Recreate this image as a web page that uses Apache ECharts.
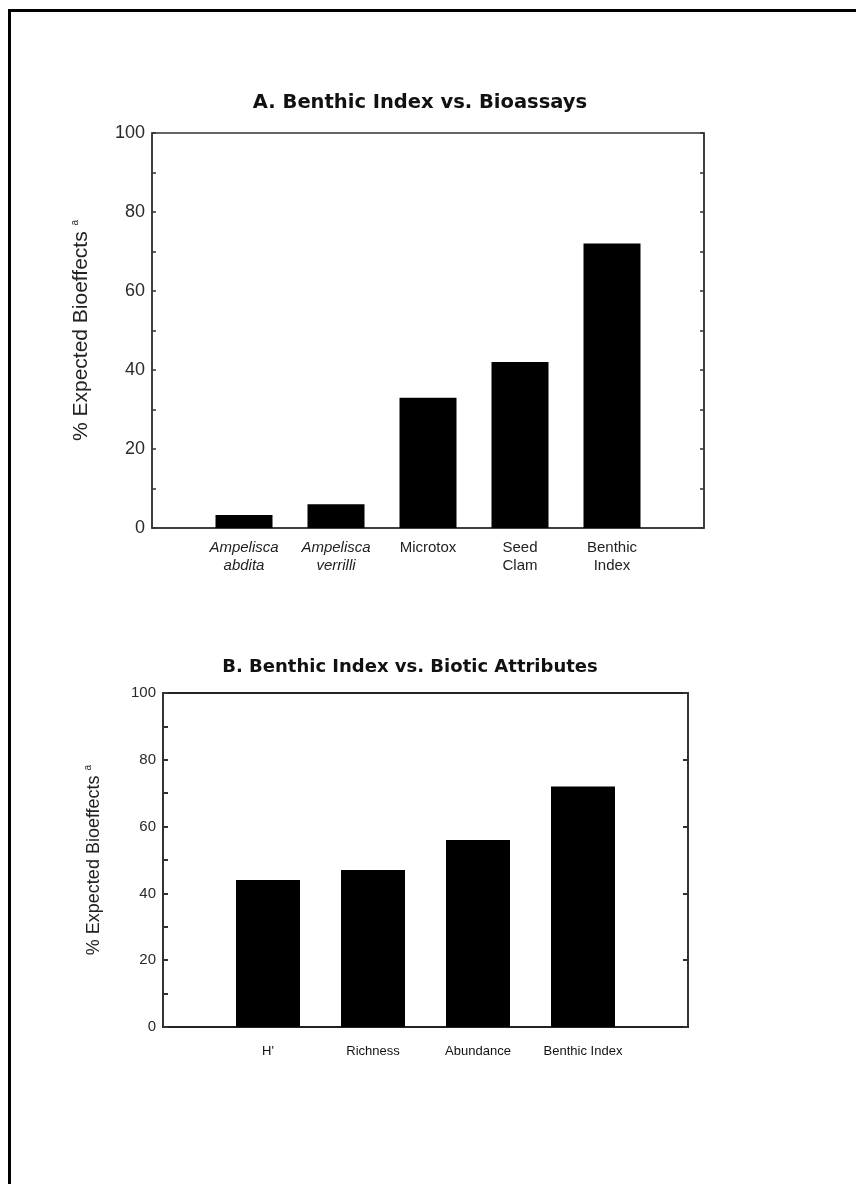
<!DOCTYPE html>
<html>
<head>
<meta charset="utf-8">
<script src="https://cdn.jsdelivr.net/npm/echarts@6/dist/echarts.min.js"></script>
<style>
html,body{margin:0;padding:0;background:#fff;overflow:hidden;}
#frame{position:absolute;left:8px;top:9px;width:900px;height:1250px;border-left:3px solid #000;border-top:3px solid #000;box-sizing:border-box;}
#chart{position:absolute;left:0;top:0;width:856px;height:1184px;}
</style>
</head>
<body>
<div id="frame"></div>
<div id="chart"></div>
<script>
// Panel A data
const catsA = ['Ampelisca\nabdita', 'Ampelisca\nverrilli', 'Microtox', 'Seed\nClam', 'Benthic\nIndex'];
const valsA = [3.3, 6, 33, 42, 72];
const italicA = [true, true, false, false, false];
// Panel B data
const catsB = ["H'", 'Richness', 'Abundance', 'Benthic Index'];
const valsB = [44, 47, 56, 72];
// Axis
const yMin = 0, yMax = 100, yStep = 20;

const fontA = 'Liberation Sans, Arial, sans-serif';
const fontT = 'DejaVu Sans, Liberation Sans, sans-serif';
const axisColor = '#333';

const padCats = c => [''].concat(c, ['']);
const padVals = v => [null].concat(v, [null]);

function yAxisDef(grid, pos, showLabel, size, name, nameSize, nameGap, tickLen, minor, lw) {
  return {
    type: 'value', gridIndex: grid, position: pos, min: yMin, max: yMax, interval: yStep,
    name: name, nameLocation: 'middle', nameGap: nameGap, nameRotate: 90,
    nameTextStyle: {fontFamily: fontA, fontSize: nameSize, color: '#222',
      rich: {sup: {fontFamily: fontA, fontSize: 10, color: '#222', verticalAlign: 'top', padding: [0,0,12,0]}}},
    axisLine: {show: true, lineStyle: {color: axisColor, width: lw}},
    axisTick: {show: true, inside: true, length: tickLen, lineStyle: {color: axisColor, width: lw}},
    minorTick: {show: minor, splitNumber: 2, length: tickLen, lineStyle: {color: axisColor, width: lw}},
    splitLine: {show: false},
    axisLabel: {show: showLabel, fontFamily: fontA, fontSize: size, color: '#2a2a2a', margin: 7}
  };
}

const chart = echarts.init(document.getElementById('chart'), null, {renderer: 'canvas'});
chart.setOption({
  animation: false,
  backgroundColor: 'transparent',
  title: [
    {text: 'A. Benthic Index vs. Bioassays', left: 415, top: 88, textAlign: 'center',
     textStyle: {fontFamily: fontT, fontSize: 19.5, fontWeight: 'bold', color: '#111'}},
    {text: 'B. Benthic Index vs. Biotic Attributes', left: 405, top: 653, textAlign: 'center',
     textStyle: {fontFamily: fontT, fontSize: 18, fontWeight: 'bold', color: '#111'}}
  ],
  grid: [
    {left: 152, top: 133, width: 552, height: 395, show: true, borderColor: axisColor, borderWidth: 1.5},
    {left: 163, top: 693, width: 525, height: 334, show: true, borderColor: '#222', borderWidth: 2}
  ],
  xAxis: [
    {type: 'category', gridIndex: 0, data: padCats(catsA), boundaryGap: false,
     axisLine: {lineStyle: {color: axisColor, width: 1.5}}, axisTick: {show: false},
     axisLabel: {interval: 0, margin: 11, lineHeight: 18,
       formatter: (v) => {
         if (!v) return '';
         const k = catsA.indexOf(v);
         const st = italicA[k] ? 'i' : 'n';
         return v.split('\n').map(s => '{' + st + '|' + s + '}').join('\n');
       },
       rich: {i: {fontFamily: fontA, fontSize: 15, fontStyle: 'italic', color: '#222', lineHeight: 18},
              n: {fontFamily: fontA, fontSize: 15, color: '#222', lineHeight: 18}}}},
    {type: 'category', gridIndex: 1, data: padCats(catsB), boundaryGap: false,
     axisLine: {lineStyle: {color: '#222', width: 2}}, axisTick: {show: false},
     axisLabel: {interval: 0, margin: 18, fontFamily: fontA, fontSize: 13, color: '#111'}}
  ],
  yAxis: [
    yAxisDef(0, 'left', true, 18, '% Expected Bioeffects {sup|a}', 21, 60, 4, true, 1.5),
    yAxisDef(0, 'right', false, 18, '', 12, 0, 4, true, 1.5),
    yAxisDef(1, 'left', true, 15, '% Expected Bioeffects {sup|a}', 18, 58, 5, true, 2),
    yAxisDef(1, 'right', false, 15, '', 12, 0, 5, false, 2)
  ],
  series: [
    {type: 'bar', xAxisIndex: 0, yAxisIndex: 0, data: padVals(valsA), barWidth: 57,
     itemStyle: {color: '#000'}},
    {type: 'bar', xAxisIndex: 1, yAxisIndex: 2, data: padVals(valsB), barWidth: 64,
     itemStyle: {color: '#000'}}
  ]
});
</script>
</body>
</html>
